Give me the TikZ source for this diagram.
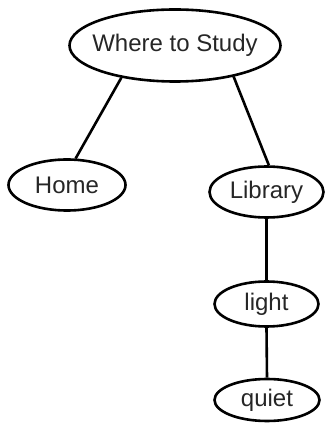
\documentclass[tikz,border=0pt]{standalone}
\usepackage{fontspec}
\setmainfont{Liberation Sans}
\usetikzlibrary{shapes.geometric}
\newcommand{\fixtxt}[1]{\makebox[0pt][c]{#1}}
\begin{document}
\begin{tikzpicture}[x=1pt,y=1pt,
  bubble/.style={draw=black,line width=2.6pt,ellipse,inner sep=0pt,
    font=\fontsize{24}{26}\selectfont,text=black!85},
  link/.style={draw=black,line width=2.6pt}]
\useasboundingbox (0,0) rectangle (325,423);
\node[bubble,minimum width=211pt,minimum height=72pt] (top) at (175,377.5) {\fixtxt{Where to Study}};
\node[bubble,minimum width=117pt,minimum height=51pt] (home) at (67,238) {\fixtxt{Home}};
\node[bubble,minimum width=114pt,minimum height=51pt] (library) at (266.5,231) {\fixtxt{Library}};
\node[bubble,minimum width=104pt,minimum height=45pt] (light) at (266.5,119) {\fixtxt{light}};
\node[bubble,minimum width=105pt,minimum height=42pt] (quiet) at (267,23) {\fixtxt{quiet}};
\draw[link] (top.211) -- (home.72);
\draw[link] (top.332) -- (library.85);
\draw[link] (library.south) -- (light.north);
\draw[link] (light.south) -- (quiet.north);
\end{tikzpicture}
\end{document}
